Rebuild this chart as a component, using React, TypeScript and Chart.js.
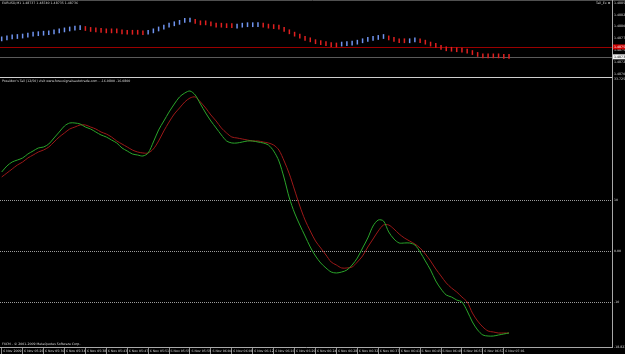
import React, { useEffect, useRef } from 'react';
import { Chart, registerables } from 'chart.js';

Chart.register(...registerables);

// ---------- text ----------
const symbolTitle = 'EURUSD,M1 1.48737 1.48740 1.48735 1.48736';
const indicatorName = "Poseidon's Tail (12/50) visit www.forexsignalsautotrade.com";
const windowName = 'Tail_Ex \u2297';
const copyright = 'FXCM - \u00a9 2001-2009 MetaQuotes Software Corp.';

// ---------- top pane: tail bars ----------
const tailOpen = [
  1.48769, 1.48771, 1.48773, 1.48774, 1.48775, 1.48777, 1.48779, 1.4878, 1.48781, 1.48782,
  1.48784, 1.48786, 1.48788, 1.4879, 1.48792, 1.48793, 1.48801, 1.48799, 1.48798, 1.48797,
  1.48796, 1.48796, 1.48796, 1.48794, 1.48793, 1.48793, 1.48793, 1.48792, 1.48783, 1.48786,
  1.4879, 1.48794, 1.48798, 1.48801, 1.48804, 1.48808, 1.48809, 1.48816, 1.48813, 1.48813,
  1.48811, 1.48808, 1.48808, 1.48807, 1.48807, 1.48796, 1.48798, 1.48799, 1.48799, 1.48799,
  1.48808, 1.48806, 1.48805, 1.48804, 1.48799, 1.48794, 1.48789, 1.48785, 1.4878, 1.48777,
  1.48773, 1.48771, 1.48769, 1.48767, 1.48766, 1.48758, 1.48759, 1.4876, 1.48762, 1.48765,
  1.48768, 1.4877, 1.48772, 1.48774, 1.48781, 1.48778, 1.48775, 1.48775, 1.48765, 1.48767,
  1.48775, 1.48772, 1.48768, 1.48765, 1.48761, 1.48758, 1.48757, 1.48756, 1.48755, 1.48753,
  1.4875, 1.48746, 1.48743, 1.48743, 1.48743, 1.48743, 1.48742, 1.48742,
];
const tailClose = [
  1.48779, 1.48781, 1.48783, 1.48784, 1.48785, 1.48787, 1.48789, 1.4879, 1.48791, 1.48792,
  1.48794, 1.48796, 1.48798, 1.488, 1.48802, 1.48803, 1.48791, 1.48789, 1.48788, 1.48787,
  1.48786, 1.48786, 1.48786, 1.48784, 1.48783, 1.48783, 1.48783, 1.48782, 1.48793, 1.48796,
  1.488, 1.48804, 1.48808, 1.48811, 1.48814, 1.48818, 1.48819, 1.48806, 1.48803, 1.48803,
  1.48801, 1.48798, 1.48798, 1.48797, 1.48797, 1.48806, 1.48808, 1.48809, 1.48809, 1.48809,
  1.48798, 1.48796, 1.48795, 1.48794, 1.48789, 1.48784, 1.48779, 1.48775, 1.4877, 1.48767,
  1.48763, 1.48761, 1.48759, 1.48757, 1.48756, 1.48768, 1.48769, 1.4877, 1.48772, 1.48775,
  1.48778, 1.4878, 1.48782, 1.48784, 1.48771, 1.48768, 1.48765, 1.48765, 1.48775, 1.48777,
  1.48765, 1.48762, 1.48758, 1.48755, 1.48751, 1.48748, 1.48747, 1.48746, 1.48745, 1.48743,
  1.4874, 1.48736, 1.48733, 1.48733, 1.48733, 1.48733, 1.48732, 1.48732,
];
const priceTicks = [1.487, 1.48725, 1.4875, 1.48775, 1.488, 1.48825, 1.4885];
const alertLevel = 1.48757;
const bidLevel = 1.48736;

// ---------- lower pane: oscillator ----------
const fastLine = [
  15.49, 16.67, 17.45, 17.84, 18.24, 19.02, 19.61, 20.2, 20.39, 20.98,
  22.16, 23.33, 24.51, 25.1, 25.1, 24.9, 24.31, 23.92, 23.33, 22.75,
  22.35, 21.76, 21.18, 20.2, 19.61, 19.02, 18.82, 18.63, 19.22, 21.37,
  23.73, 25.49, 27.25, 28.82, 30.2, 30.98, 31.37, 30.59, 28.82, 27.06,
  25.49, 24.12, 22.75, 21.57, 21.18, 21.18, 21.37, 21.57, 21.57, 21.37,
  21.18, 20.78, 19.61, 17.65, 14.31, 10.39, 7.45, 5.1, 2.94, 0.78,
  -0.98, -2.35, -3.33, -4.12, -4.31, -4.12, -3.73, -2.75, -1.37, 0.59,
  2.55, 4.9, 6.08, 5.88, 3.73, 2.35, 1.57, 1.57, 1.57, 1.18,
  -0.2, -1.96, -3.73, -5.88, -7.45, -8.63, -9.02, -9.61, -10.0, -11.76,
  -13.92, -15.49, -16.47, -16.67, -16.67, -16.47, -16.27, -16.08,
];
const slowLine = [
  14.51, 15.29, 16.08, 16.86, 17.45, 18.24, 18.82, 19.41, 19.8, 20.39,
  21.37, 22.35, 23.14, 23.92, 24.31, 24.71, 24.71, 24.31, 23.92, 23.33,
  22.94, 22.35, 21.57, 20.98, 20.39, 19.8, 19.41, 19.22, 19.22, 20.0,
  21.57, 23.53, 25.29, 26.86, 28.04, 29.22, 30.0, 30.2, 29.22, 28.04,
  26.67, 25.49, 24.12, 23.14, 22.35, 22.16, 21.96, 21.76, 21.57, 21.57,
  21.37, 21.18, 20.78, 19.8, 17.65, 15.1, 11.96, 8.82, 6.08, 3.92,
  1.96, 0.59, -0.78, -2.16, -2.75, -3.33, -3.33, -3.14, -2.16, -0.98,
  0.78, 2.35, 3.92, 5.1, 5.1, 4.31, 3.33, 2.55, 1.96, 1.37,
  0.59, -0.59, -1.96, -3.53, -4.9, -6.27, -7.25, -8.04, -9.02, -10.0,
  -12.16, -13.73, -14.9, -15.69, -15.88, -16.08, -16.08, -16.08,
];
const oscLevels = [10, 0, -10];
const oscMin = -18.8235;
const oscMax = 33.7255;

// ---------- time axis ----------
const timeTickBars = [0, 4, 8, 12, 16, 20, 24, 28, 32, 36, 40, 44, 48, 52, 56, 60, 64, 68, 72, 76, 80, 84, 88, 92, 96];
const timeLabels = [
  '6 Nov 2009', '6 Nov 05:26', '6 Nov 05:30', '6 Nov 05:34', '6 Nov 05:38', '6 Nov 05:43',
  '6 Nov 05:47', '6 Nov 05:51', '6 Nov 05:55', '6 Nov 05:59', '6 Nov 06:04', '6 Nov 06:08',
  '6 Nov 06:12', '6 Nov 06:16', '6 Nov 06:20', '6 Nov 06:24', '6 Nov 06:28', '6 Nov 06:32',
  '6 Nov 06:37', '6 Nov 06:41', '6 Nov 06:45', '6 Nov 06:49', '6 Nov 06:53', '6 Nov 06:57',
  '6 Nov 07:01',
];

// ---------- styling ----------
const FONT = 'DejaVu Sans';
const FS = 3.2;
const TEXT = '#d6d6d6';
const AXIS = '#a8a8a8';
const X_MIN = -0.325;
const X_MAX = 116.69;
const W = 625;
const TOP_H = 77;
const BOT_H = 277;

function hline(ctx: CanvasRenderingContext2D, x1: number, x2: number, y: number, color: string, dash: number[] = []) {
  ctx.save();
  ctx.strokeStyle = color;
  ctx.lineWidth = 1;
  ctx.setLineDash(dash);
  ctx.beginPath();
  ctx.moveTo(x1, y);
  ctx.lineTo(x2, y);
  ctx.stroke();
  ctx.restore();
}

function txt(ctx: CanvasRenderingContext2D, s: string, x: number, y: number, color = TEXT) {
  ctx.save();
  ctx.font = `${FS}px "${FONT}"`;
  ctx.fillStyle = color;
  ctx.textAlign = 'left';
  ctx.textBaseline = 'middle';
  ctx.fillText(s, x, y);
  ctx.restore();
}

const topPanePlugin = {
  id: 'topPane',
  beforeDatasetsDraw(chart: any) {
    const { ctx, chartArea, scales } = chart;
    hline(ctx, 0, W, 0.5, '#505050');
    const yA = Math.round(scales.y.getPixelForValue(alertLevel)) + 0.5;
    const yB = Math.round(scales.y.getPixelForValue(bidLevel)) + 0.5;
    hline(ctx, chartArea.left, chartArea.right, yA, '#9a0000');
    hline(ctx, chartArea.left, chartArea.right, yB, '#5a5a5a');
  },
  afterDraw(chart: any) {
    const { ctx, chartArea, scales } = chart;
    ctx.save();
    ctx.strokeStyle = AXIS;
    ctx.lineWidth = 1;
    ctx.beginPath();
    ctx.moveTo(chartArea.right + 0.5, 0);
    ctx.lineTo(chartArea.right + 0.5, TOP_H);
    ctx.stroke();
    const yA = scales.y.getPixelForValue(alertLevel);
    const yB = scales.y.getPixelForValue(bidLevel);
    ctx.fillStyle = '#d00000';
    ctx.fillRect(chartArea.right + 1, yA - 2.5, 13, 5);
    ctx.fillStyle = '#f2f2f2';
    ctx.fillRect(chartArea.right + 1, yB - 2.5, 13, 5);
    ctx.restore();
    txt(ctx, alertLevel.toFixed(5), chartArea.right + 2, yA, '#ffffff');
    txt(ctx, bidLevel.toFixed(5), chartArea.right + 2, yB, '#000000');
    txt(ctx, symbolTitle, 2, 3.5);
    txt(ctx, windowName, 596, 3.5);
  },
};

const lowPanePlugin = {
  id: 'lowPane',
  beforeDatasetsDraw(chart: any) {
    const { ctx, chartArea, scales } = chart;
    hline(ctx, 0, chartArea.right, 0.5, '#cfcfcf');
    oscLevels.forEach((lv) => {
      const y = Math.round(scales.y.getPixelForValue(lv)) + 0.5;
      hline(ctx, chartArea.left, chartArea.right, y, '#9c9c9c', [1, 1]);
    });
  },
  afterDraw(chart: any) {
    const { ctx, chartArea } = chart;
    ctx.save();
    ctx.strokeStyle = AXIS;
    ctx.lineWidth = 1;
    ctx.beginPath();
    ctx.moveTo(chartArea.right + 0.5, 0);
    ctx.lineTo(chartArea.right + 0.5, chartArea.bottom + 0.5);
    ctx.stroke();
    ctx.restore();
    const last = (a: number[]) => a[a.length - 1].toFixed(4);
    txt(ctx, `${indicatorName} - ${last(fastLine)} ${last(slowLine)}`, 2, 4);
    txt(ctx, copyright, 2, chartArea.bottom - 2.5);
  },
};

const yFit = (s: any) => {
  s.width = 13;
  s.paddingTop = 0;
  s.paddingBottom = 0;
};

function TopPane() {
  const ref = useRef<HTMLCanvasElement>(null);
  useEffect(() => {
    const data = tailOpen.map((o, i) => ({ x: i, y: [o, tailClose[i]] }));
    const colors = tailOpen.map((o, i) => (tailClose[i] >= o ? '#6f93ee' : '#e02020'));
    const chart = new Chart(ref.current!, {
      type: 'bar',
      data: {
        datasets: [
          {
            data: data as any,
            backgroundColor: colors,
            borderWidth: 0,
            inflateAmount: 0,
            barThickness: 1.5,
          },
        ],
      },
      options: {
        animation: false,
        responsive: false,
        layout: { padding: { top: 2, bottom: 1, left: 0, right: 0 } },
        plugins: { legend: { display: false }, tooltip: { enabled: false } },
        scales: {
          x: {
            type: 'linear',
            min: X_MIN,
            max: X_MAX,
            offset: false,
            grid: { offset: false, display: false },
            ticks: { display: false },
            border: { display: false },
            afterFit: (s: any) => {
              s.height = 0;
              s.paddingLeft = 0;
              s.paddingRight = 0;
            },
          },
          y: {
            type: 'linear',
            position: 'right',
            min: 1.4869534,
            max: 1.4885212,
            grid: { display: false, drawTicks: false },
            border: { display: false },
            ticks: {
              color: TEXT,
              font: { size: FS, family: FONT },
              padding: 2,
              crossAlign: 'near',
              autoSkip: false,
              callback: (v: any) => Number(v).toFixed(5),
            },
            afterBuildTicks: (s: any) => {
              s.ticks = priceTicks.map((v) => ({ value: v }));
            },
            afterFit: yFit,
          },
        },
      },
      plugins: [topPanePlugin],
    });
    return () => chart.destroy();
  }, []);
  return <canvas ref={ref} width={W} height={TOP_H} style={{ position: 'absolute', left: 0, top: 0, width: W, height: TOP_H }} />;
}

function LowPane() {
  const ref = useRef<HTMLCanvasElement>(null);
  useEffect(() => {
    const chart = new Chart(ref.current!, {
      type: 'line',
      data: {
        datasets: [
          {
            data: fastLine.map((v, i) => ({ x: i, y: v })),
            borderColor: '#2aa52a',
            borderWidth: 1,
            pointRadius: 0,
            tension: 0.3,
          },
          {
            data: slowLine.map((v, i) => ({ x: i, y: v })),
            borderColor: '#9c1818',
            borderWidth: 1,
            pointRadius: 0,
            tension: 0.3,
          },
        ],
      },
      options: {
        animation: false,
        responsive: false,
        layout: { padding: { top: 2, bottom: 0, left: 0, right: 0 } },
        plugins: { legend: { display: false }, tooltip: { enabled: false } },
        scales: {
          x: {
            type: 'linear',
            min: X_MIN,
            max: X_MAX,
            offset: false,
            position: 'bottom',
            grid: { drawOnChartArea: false, drawTicks: true, tickLength: 7, tickColor: '#8c8c8c' },
            border: { display: true, color: AXIS },
            ticks: {
              color: TEXT,
              font: { size: FS, family: FONT },
              align: 'start',
              padding: -4.6,
              labelOffset: 1.5,
              maxRotation: 0,
              minRotation: 0,
              autoSkip: false,
              callback: (_v: any, i: number) => timeLabels[i] ?? '',
            },
            afterBuildTicks: (s: any) => {
              s.ticks = timeTickBars.map((v) => ({ value: v }));
            },
            afterFit: (s: any) => {
              s.height = 7;
              s.paddingLeft = 0;
              s.paddingRight = 0;
            },
          },
          y: {
            type: 'linear',
            position: 'right',
            min: oscMin,
            max: oscMax,
            grid: { display: false, drawTicks: false },
            border: { display: false },
            ticks: {
              color: TEXT,
              font: { size: FS, family: FONT },
              padding: 2,
              crossAlign: 'near',
              autoSkip: false,
              callback: (v: any) => {
                const n = Number(v);
                if (n === oscMin || n === oscMax) return n.toFixed(4);
                if (n === 0) return '0.00';
                return String(n);
              },
            },
            afterBuildTicks: (s: any) => {
              s.ticks = [oscMin, ...oscLevels, oscMax].map((v) => ({ value: v }));
            },
            afterFit: yFit,
          },
        },
      },
      plugins: [lowPanePlugin],
    });
    return () => chart.destroy();
  }, []);
  return <canvas ref={ref} width={W} height={BOT_H} style={{ position: 'absolute', left: 0, top: TOP_H, width: W, height: BOT_H }} />;
}

export default function App() {
  return (
    <div style={{ position: 'fixed', left: 0, top: 0, width: W, height: 354, background: '#000', overflow: 'hidden' }}>
      <TopPane />
      <LowPane />
    </div>
  );
}
